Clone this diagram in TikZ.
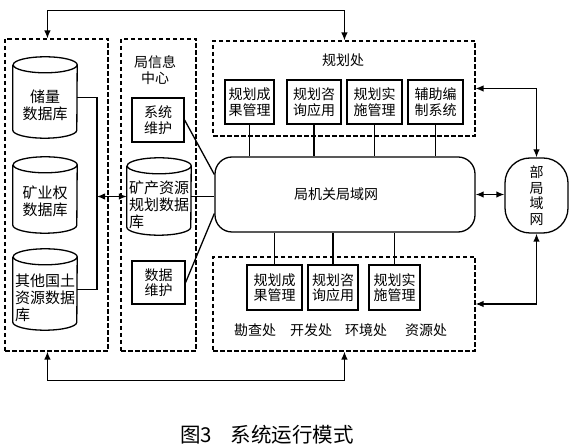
\documentclass[tikz,border=0pt]{standalone}
\usepackage{fontspec}
\newfontfamily\cjk{Noto Sans CJK SC}
\usetikzlibrary{arrows.meta,calc}
\newcommand{\cylframe}[1]{\draw[ln] ($(#1.north west)+(0,-8)$) -- ($(#1.south west)+(0,8)$) arc[start angle=180,end angle=360,x radius=32,y radius=8] -- ($(#1.north east)+(0,-8)$) arc[start angle=0,end angle=360,x radius=32,y radius=8];}
\begin{document}
\begin{tikzpicture}[x=1pt,y=1pt,
  font=\cjk\fontsize{14}{15.5}\selectfont,
  every node/.style={inner sep=0pt},
  ln/.style={line width=1.3pt},
  dbox/.style={draw, dash pattern=on 4.5pt off 2.5pt, line width=1.1pt},
  sbox/.style={draw, line width=1.2pt, minimum height=44pt, align=center},
  cylf/.style={minimum width=64pt, draw=none},
  cyltext/.style={font=\cjk\fontsize{15}{17}\selectfont, align=center},
  arr/.style={line width=1.3pt, {Latex[length=8pt,width=6.5pt]}-{Latex[length=8pt,width=6.5pt]}}
]
\useasboundingbox (0,0) rectangle (570,447);
% dashed groups
\node[dbox, minimum width=103pt, minimum height=312pt] (L) at (56.5,252) {};
\node[dbox, minimum width=75pt, minimum height=312pt] (I) at (158.5,252) {};
\node[dbox, minimum width=262pt, minimum height=95pt] (T) at (344,358.5) {};
\node[dbox, minimum width=262pt, minimum height=94pt] (B) at (344,143) {};
% top and bottom connectors
\draw[arr] ([xshift=43pt]L.north west) -- ++(0,28) -| ([xshift=132pt]T.north west);
\draw[arr] ([xshift=43pt]L.south west) -- ++(0,-29) -| ([xshift=132pt]B.south west);
% cylinders
\node[cylf, minimum height=81pt] (C1) at (45,349.5) {};
\node[cylf, minimum height=76pt] (C2) at (45,252) {};
\node[cylf, minimum height=81pt] (C3) at (45,157.5) {};
\node[cylf, minimum height=77pt] (M) at (159,250.5) {};
\cylframe{C1}\cylframe{C2}\cylframe{C3}\cylframe{M}
\node[cyltext] (C1t) at ([yshift=-8pt]C1.center) {储量\\数据库};
\node[cyltext] (C2t) at ([yshift=-6pt]C2.center) {矿业权\\数据库};
\node[cyltext, align=left, text width=62pt] (C3t) at ([xshift=1pt,yshift=-8pt]C3.center) {其他国土\\资源数据\\库};
\node[cyltext, align=left, text width=62pt] (Mt) at ([xshift=1pt,yshift=-8pt]M.center) {矿产资源\\规划数据\\库};
% bus
\coordinate (bus) at (97,0);
\draw[ln] (C1.east) -- (C1.east -| bus) -- (C3.east -| bus) -- (C3.east);
\draw[arr] (M.west -| bus) -- (M.west);
% info centre
\node[align=center] (It) at (155,377) {局信息\\中心};
\node[sbox, minimum width=52pt] (S1) at (158,327) {系统\\维护};
\node[sbox, minimum width=53pt, minimum height=43pt] (S2) at (158.5,164.5) {数据\\维护};
% LAN
\node[draw, ln, rounded corners=17pt, minimum width=260pt, minimum height=75pt] (LAN) at (345,252.5) {};
\node (LANt) at (336,253) {局机关局域网};
\draw[ln] (S1.east) -- ([yshift=20pt]LAN.west);
\draw[ln] (S2.east) -- ([yshift=-19pt]LAN.west);
\draw[ln] (M.east) -- (M.east -| LAN.west);
% planning office
\node (Tt) at (343,387) {规划处};
\node[sbox, minimum width=49pt] (P1) at (249.5,345) {规划成\\果管理};
\node[sbox, minimum width=54pt] (P2) at (314,345) {规划咨\\询应用};
\node[sbox, minimum width=55pt] (P3) at (374.5,345) {规划实\\施管理};
\node[sbox, minimum width=55pt] (P4) at (435.5,345) {辅助编\\制系统};
\foreach \p in {P1,P2,P3,P4} \draw[ln] (\p.south) -- (\p.south |- LAN.north);
% other offices
\node[sbox, minimum width=55pt, minimum height=45pt] (Q1) at (274.5,159.5) {规划成\\果管理};
\node[sbox, minimum width=50pt, minimum height=45pt] (Q2) at (333,159.5) {规划咨\\询应用};
\node[sbox, minimum width=51pt, minimum height=45pt] (Q3) at (394.5,159.5) {规划实\\施管理};
\foreach \q in {Q1,Q2,Q3} \draw[ln] (\q.north) -- (\q.north |- LAN.south);
\node (K1) at (255,117) {勘查处};
\node (K2) at (311,117) {开发处};
\node (K3) at (366,117) {环境处};
\node (K4) at (426,117) {资源处};
% ministry LAN
\node[draw, ln, rounded corners=25pt, minimum width=63pt, minimum height=75pt, align=center] (G) at (536.5,251.5) {部\\局\\域\\网};
\draw[arr] (LAN.east) -- (LAN.east -| G.west);
\draw[arr] (G.north) |- (T.east);
\draw[arr] (G.south) |- (B.east);
% caption
\node[font=\cjk\fontsize{20.5}{22}\selectfont] (cap) at (267,12) {图3\hspace{0.9em}系统运行模式};
\end{tikzpicture}
\end{document}
